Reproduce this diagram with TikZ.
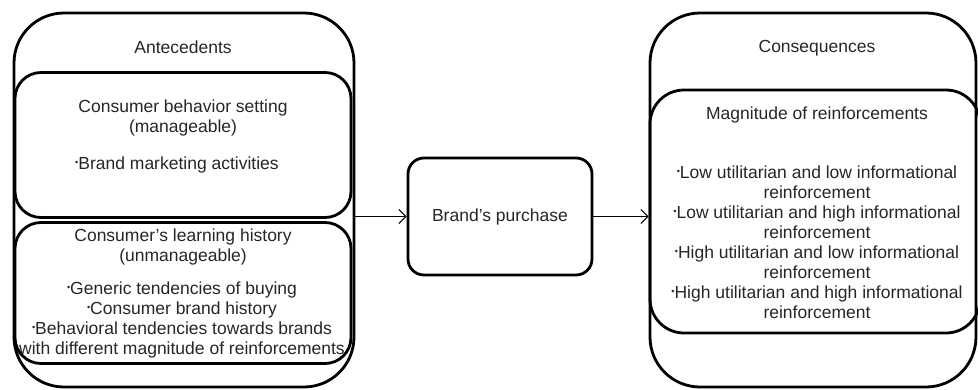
\documentclass[tikz,border=0pt]{standalone}
\usepackage{fontspec}
\setmainfont{Liberation Sans}
\usetikzlibrary{positioning,arrows.meta}
\newcommand{\bul}{\raisebox{.45ex}{\fontsize{9}{9}\selectfont\textbullet}}
\tikzset{
	outerbox/.style={draw=black,line width=2.8pt,rounded corners=50pt},
	innerbox/.style={draw=black,line width=2.8pt,rounded corners=26pt},
	txt/.style={align=center,font=\fontsize{17.5}{20}\selectfont,text=black!85,inner sep=0pt},
	flow/.style={-{Straight Barb[length=7pt,width=14pt]},line width=1pt}
}
\begin{document}
\begin{tikzpicture}[x=1pt,y=-1pt]
	\useasboundingbox (0,0) rectangle (978,389);
	% left side
	\node[outerbox,minimum width=340pt,minimum height=374pt] (antec) at (184,200) {};
	\node[innerbox,minimum width=336pt,minimum height=145pt] (setting) at (183,145) {};
	\node[innerbox,minimum width=336pt,minimum height=141pt] (history) at (183,293) {};
	\node[txt] (antectxt) at (183,47) {Antecedents};
	\node[txt] (settingtxt) at (183,118) {Consumer behavior setting\\(manageable)};
	\node[txt] (settingitem) at (177,165) {\bul Brand marketing activities};
	\node[txt] (historytxt) at (183,247) {Consumer's learning history\\(unmanageable)};
	\node[txt] (historyitems) at (182,320) {\bul Generic tendencies of buying\\\bul Consumer brand history\\\bul Behavioral tendencies towards brands\\with different magnitude of reinforcements};
	% middle
	\node[draw=black,line width=2.8pt,rounded corners=16pt,minimum width=184pt,minimum height=117pt] (purchase) at (500,216.5) {};
	\node[txt] (purchasetxt) at (500,216.5) {Brand's purchase};
	% right side
	\node[outerbox,minimum width=326pt,minimum height=374pt] (conseq) at (813,200) {};
	\node[innerbox,rounded corners=34pt,minimum width=330pt,minimum height=243pt] (magn) at (815,211.5) {};
	\node[txt] (conseqtxt) at (817,48) {Consequences};
	\node[txt] (magntxt) at (817,115) {Magnitude of reinforcements};
	\node[txt] (magnitems) at (817,242) {\bul Low utilitarian and low informational\\reinforcement\\\bul Low utilitarian and high informational\\reinforcement\\\bul High utilitarian and low informational\\reinforcement\\\bul High utilitarian and high informational\\reinforcement};
	% arrows
	\draw[flow] (antec.east |- purchase.west) -- (purchase.west);
	\draw[flow] (purchase.east) -- (purchase.east -| conseq.west);
\end{tikzpicture}
\end{document}
